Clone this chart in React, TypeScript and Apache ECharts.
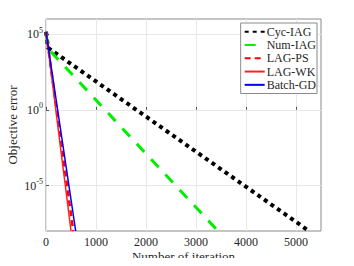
import React, { useEffect, useRef } from "react";
import * as echarts from "echarts";

// log10(objective error) vs iteration
const cycIag: [number, number][] = [[0, 5.15], [40, 4.1], [5260, -8]];
const numIag: [number, number][] = [[0, 5.15], [40, 4.05], [3440, -8]];
const lagPs: [number, number][] = [[0, 5.15], [545, -8]];
const lagWk: [number, number][] = [[0, 5.15], [500, -8]];
const batchGd: [number, number][] = [[0, 5.15], [594, -8]];
const xTicks = [0, 1000, 2000, 3000, 4000, 5000];
const yTicks = [-5, 0, 5];

const FONT = "Liberation Serif";

export default function App() {
  const ref = useRef<HTMLDivElement>(null);
  useEffect(() => {
    const chart = echarts.init(ref.current!, null, { renderer: "svg" });
    const mk = (name: string, data: [number, number][], color: string, width: number, type: any, z: number) => ({
      name,
      type: "line",
      data,
      showSymbol: false,
      symbol: "none",
      z,
      lineStyle: { color, width, type, cap: "butt" },
      itemStyle: { color },
    });
    const txt = { fontFamily: FONT, color: "#262626" };
    chart.setOption({
      animation: false,
      textStyle: { fontFamily: FONT },
      grid: {
        left: 46, right: 33, top: 19, bottom: 35,
        outerBoundsMode: "none",
        containLabel: false,
        show: true, borderColor: "#8a8a8a", borderWidth: 1, backgroundColor: "transparent",
      },
      legend: {
        orient: "vertical",
        right: 37,
        top: 23,
        itemGap: 0,
        itemWidth: 20,
        itemHeight: 11,
        padding: [2, 1, 2, 3],
        backgroundColor: "#fff",
        borderColor: "#8a8a8a",
        borderWidth: 1,
        itemStyle: { opacity: 0 },
        textStyle: { ...txt, fontSize: 12, lineHeight: 13.3, padding: [0, 0, 0, -3] },
        data: ["Cyc-IAG", "Num-IAG", "LAG-PS", "LAG-WK", "Batch-GD"],
      },
      xAxis: [
        {
          type: "value",
          min: 0,
          max: 5500,
          interval: 1000,
          name: "Number of iteration",
          nameLocation: "middle",
          nameGap: 18.5,
          nameMoveOverlap: false,
          nameTextStyle: { ...txt, fontSize: 13, lineHeight: 13, verticalAlign: "top" },
          axisLine: { show: false },
          axisTick: { show: true, inside: true, length: 3, lineStyle: { color: "#555" }, customValues: xTicks },
          axisLabel: { ...txt, fontSize: 12, lineHeight: 12, margin: 5, customValues: xTicks, formatter: (v: number) => String(v) },
          splitLine: { show: true, lineStyle: { color: "#e8e8e8", width: 1 } },
        },
      ],
      yAxis: [
        {
          type: "value",
          min: -8,
          max: 6,
          name: "Objective error",
          nameLocation: "middle",
          nameGap: 27,
          nameMoveOverlap: false,
          nameTextStyle: { ...txt, fontSize: 13, verticalAlign: "bottom" },
          axisLine: { show: false },
          axisTick: { show: true, inside: true, length: 3, lineStyle: { color: "#555" }, customValues: yTicks },
          axisLabel: {
            ...txt,
            fontSize: 12,
            margin: 3,
            customValues: yTicks,
            formatter: (v: number) => `{b|10}{s|${v}}`,
            rich: {
              b: { ...txt, fontSize: 12 },
              s: { ...txt, fontSize: 8, padding: [0, 0, 8, 0] },
            },
          },
          splitLine: { show: true, lineStyle: { color: "#e8e8e8", width: 1 } },
        },
      ],
      series: [
        mk("Cyc-IAG", cycIag, "#000000", 4, [4, 4], 2),
        mk("Num-IAG", numIag, "#00ee00", 3, [11, 10], 2),
        mk("LAG-PS", lagPs, "#ff0000", 2.5, [6, 4], 3),
        mk("LAG-WK", lagWk, "#ff2020", 1.5, "solid", 3),
        mk("Batch-GD", batchGd, "#0000ff", 1.5, "solid", 4),
      ],
    });
    return () => chart.dispose();
  }, []);
  return <div ref={ref} style={{ width: 354, height: 266, margin: -8 }} />;
}
